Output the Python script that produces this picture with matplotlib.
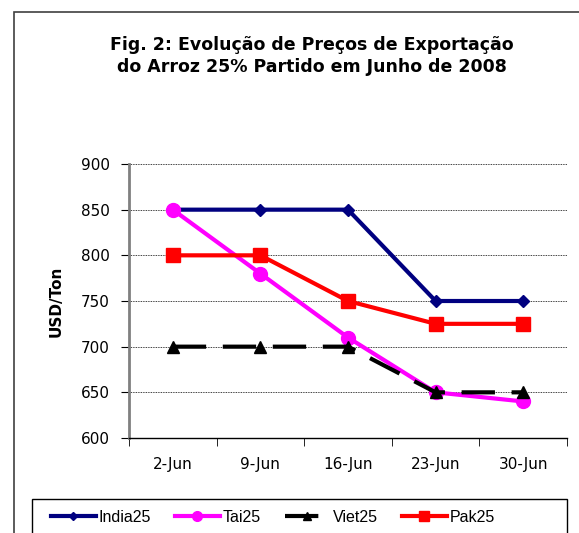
import matplotlib.pyplot as plt
from matplotlib.patches import Rectangle

datas = ["2-Jun", "9-Jun", "16-Jun", "23-Jun", "30-Jun"]
india25 = [850, 850, 850, 750, 750]
tai25 = [850, 780, 710, 650, 640]
viet25 = [700, 700, 700, 650, 650]
pak25 = [800, 800, 750, 725, 725]

plt.rcParams['font.family'] = ['DejaVu Sans']

fig = plt.figure(figsize=(5.79, 5.33), dpi=100)
W, H = 579, 533

# moldura exterior (sai da imagem a direita e em baixo)
fig.patches.append(Rectangle((14/W, -0.2), 1.2, 1.2 - 12/H, transform=fig.transFigure,
                             fill=False, edgecolor='#404040', linewidth=1.2))

ax = fig.add_axes([129/W, 1-438/H, (567-129)/W, (438-164)/H])
x = range(len(datas))

ax.plot(x, india25, color='#000080', marker='D', markersize=6, linewidth=3, label='India25', zorder=3)
ax.plot(x, tai25, color='#ff00ff', marker='o', markersize=10, linewidth=3, label='Tai25', zorder=4)
ax.plot(x, viet25, color='black', marker='^', markersize=9, linewidth=3, dashes=(8, 4),
        label='Viet25', zorder=5)
ax.plot(x, pak25, color='#ff0000', marker='s', markersize=10, linewidth=3, label='Pak25', zorder=6)

ax.set_xlim(-0.5, 4.5)
ax.set_ylim(600, 900)
ax.set_yticks(range(600, 901, 50))
ax.set_xticks(x)
ax.set_xticklabels(datas)
ax.set_xticks([i - 0.5 for i in range(6)], minor=True)
ax.tick_params(axis='x', which='major', length=0, pad=14, labelsize=11)
ax.tick_params(axis='x', which='minor', length=6, direction='out', color='black')
ax.tick_params(axis='y', length=6, direction='out', labelsize=11, pad=8, color='black')
ax.grid(axis='y', color='black', linestyle=(0, (1, 1)), linewidth=0.6)
ax.set_axisbelow(True)
for s in ['top', 'right']:
    ax.spines[s].set_visible(False)
ax.spines['left'].set_color('#808080')
ax.spines['left'].set_linewidth(2)
ax.spines['bottom'].set_color('black')
ax.spines['bottom'].set_linewidth(1)

ax.set_ylabel('USD/Ton', fontsize=11, fontweight='bold', labelpad=12)

fig.text(312/W, 1-56/H, 'Fig. 2: Evolução de Preços de Exportação\ndo Arroz 25% Partido em Junho de 2008',
         ha='center', va='center', fontsize=12.5, fontweight='bold', linespacing=1.3)

# caixa da legenda
fig.patches.append(Rectangle((32/W, -0.2), (567-32)/W, 0.2 + 1-499/H, transform=fig.transFigure,
                             fill=False, edgecolor='black', linewidth=1))
leg = fig.legend(loc='center', bbox_to_anchor=(273/W, 1-517/H), ncol=4, frameon=False,
                 prop={'family': 'Liberation Sans', 'size': 11.5}, handlelength=2.8,
                 columnspacing=1.5, handletextpad=0.2, markerscale=0.7)

fig.savefig('out.png', dpi=100)
